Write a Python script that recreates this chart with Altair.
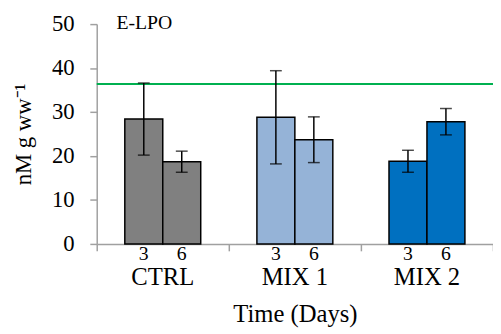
import altair as alt
import pandas as pd

groups = ["CTRL", "CTRL", "MIX 1", "MIX 1", "MIX 2", "MIX 2"]
days = ["3", "6", "3", "6", "3", "6"]
means = [28.4, 18.7, 28.8, 23.7, 18.8, 27.8]
errs = [8.2, 2.4, 10.6, 5.2, 2.5, 3.0]
group_names = ["CTRL", "MIX 1", "MIX 2"]
group_colors = ["#808080", "#95B3D7", "#0070C0"]
threshold = [36.4]
panel_label = ["E-LPO"]
y_ticks = [0, 10, 20, 30, 40, 50]

df = pd.DataFrame({
    "group": groups,
    "day": days,
    "mean": means,
    "lo": [m - e for m, e in zip(means, errs)],
    "hi": [m + e for m, e in zip(means, errs)],
})
gdf = pd.DataFrame({"group": group_names})
tdf = pd.DataFrame({"value": threshold})
ldf = pd.DataFrame({"label": panel_label})

FONT = "Liberation Serif"
AXIS_GREY = "#A0A0A0"

x_axis = alt.Axis(
    labels=False, tickBand="extent", tickSize=7, tickColor=AXIS_GREY, tickWidth=1.5,
    domainColor=AXIS_GREY, domainWidth=1.5, title="Time (Days)", titleFont=FONT,
    titleFontSize=25, titleFontWeight="normal", titleColor="black",
    titleX=201, titleY=71, titleBaseline="middle", titleAlign="center",
)
x_enc = alt.X("group:N", scale=alt.Scale(domain=group_names, paddingInner=0, paddingOuter=0),
              axis=x_axis, title="Time (Days)")
xo_enc = alt.XOffset("day:N", scale=alt.Scale(domain=["3", "6"], paddingInner=0, paddingOuter=0.74))

y_axis = alt.Axis(
    values=y_ticks, tickSize=7, tickColor=AXIS_GREY, tickWidth=1.5, domainColor=AXIS_GREY,
    domainWidth=1.5, labelFont=FONT, labelFontSize=23, labelColor="black", labelPadding=16,
    grid=False, title="nM g ww⁻¹", titleFont=FONT, titleFontSize=23, titleFontWeight="normal",
    titleColor="black", titleX=-74, titleY=111.5, titleAngle=270, titleAlign="center",
    titleBaseline="middle",
)
y_scale = alt.Scale(domain=[0, 50], nice=False)


def yq(field):
    return alt.Y(f"{field}:Q", scale=y_scale, axis=y_axis, title="nM g ww⁻¹")


bars = alt.Chart(df).mark_bar(stroke="black", strokeWidth=1.5).encode(
    x=x_enc, xOffset=xo_enc, y=yq("mean"),
    color=alt.Color("group:N", scale=alt.Scale(domain=group_names, range=group_colors), legend=None),
)

thr = alt.Chart(tdf).mark_rule(color="#00B050", strokeWidth=2).encode(y=yq("value"))

err = alt.Chart(df).mark_rule(color="black", strokeWidth=1.5).encode(
    x=x_enc, xOffset=xo_enc, y=yq("lo"), y2="hi:Q"
)
cap_hi = alt.Chart(df).mark_tick(color="black", size=12, thickness=1.5).encode(
    x=x_enc, xOffset=xo_enc, y=yq("hi")
)
cap_lo = alt.Chart(df).mark_tick(color="black", size=12, thickness=1.5).encode(
    x=x_enc, xOffset=xo_enc, y=yq("lo")
)

day_labels = alt.Chart(df).mark_text(font=FONT, fontSize=20, baseline="middle", color="black").encode(
    x=x_enc, xOffset=xo_enc, y=alt.value(233), text="day:N"
)
group_labels = alt.Chart(gdf).mark_text(font=FONT, fontSize=25, baseline="middle", color="black").encode(
    x=x_enc, y=alt.value(256.5), text="group:N"
)
panel = alt.Chart(ldf).mark_text(font=FONT, fontSize=20, baseline="middle", align="left", color="black").encode(
    x=alt.value(20), y=alt.value(-1), text="label:N"
)

chart = alt.layer(bars, thr, err, cap_hi, cap_lo, day_labels, group_labels, panel).properties(
    width=402, height=223,
    autosize=alt.AutoSizeParams(type="none"),
    padding={"left": 90, "top": 14, "right": 0, "bottom": 86},
).configure_view(stroke=None)

chart.save("out.html", embed_options={"renderer": "svg", "actions": False})
